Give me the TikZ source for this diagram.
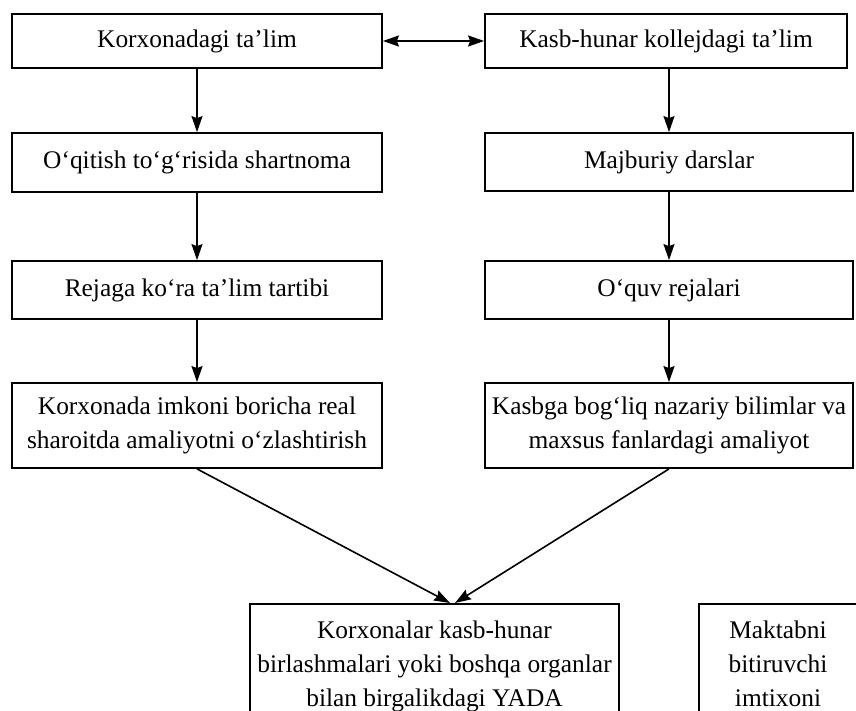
\documentclass[tikz,border=0pt]{standalone}
\usepackage{fontspec}
\setmainfont{Liberation Serif}
\usetikzlibrary{arrows.meta,calc}
\begin{document}
\begin{tikzpicture}[x=1pt,y=-1pt,
  box/.style={draw=black, line width=1.8pt, fill=white, inner xsep=2pt, inner ysep=0pt, align=center,
              font=\fontsize{25.4}{34}\selectfont},
  arr/.style={line width=1.6pt, -{Stealth[length=16pt,width=11pt,inset=2pt]}},
  darr/.style={line width=1.8pt, {Stealth[length=16pt,width=11pt,inset=2pt]}-{Stealth[length=16pt,width=11pt,inset=2pt]}}]
\useasboundingbox (0,0) rectangle (856,711);
\fill[white] (0,0) rectangle (856,711);

% row 1
\node[box, minimum width=370pt, minimum height=54pt] (l1) at (197,41) {Korxonadagi ta’lim};
\node[box, minimum width=362pt, minimum height=54pt] (r1) at (666,41) {Kasb-hunar kollejdagi ta’lim};
% row 2
\node[box, minimum width=370pt, minimum height=59pt] (l2) at (197,162.5) {O‘qitish to‘g‘risida shartnoma};
\node[box, minimum width=368pt, minimum height=58pt] (r2) at (669,162) {Majburiy darslar};
% row 3
\node[box, minimum width=370pt, minimum height=58pt] (l3) at (197,290) {Rejaga ko‘ra ta’lim tartibi};
\node[box, minimum width=368pt, minimum height=58pt] (r3) at (669,290) {O‘quv rejalari};
% row 4
\node[box, minimum width=370pt, minimum height=85pt] (l4) at (197,425.5) {Korxonada imkoni boricha real\\sharoitda amaliyotni o‘zlashtirish};
\node[box, minimum width=368pt, minimum height=85pt] (r4) at (669,425.5) {Kasbga bog‘liq nazariy bilimlar va\\maxsus fanlardagi amaliyot};
% row 5
\node[box, anchor=north, minimum width=369pt, inner ysep=16.5pt] (b1) at (434.5,603)
  {Korxonalar kasb-hunar\\birlashmalari yoki boshqa organlar\\bilan birgalikdagi YADA};
\node[box, anchor=north, minimum width=158pt, inner ysep=16.5pt] (b2) at (778,603)
  {Maktabni\\bitiruvchi\\imtixoni};

% connectors
\draw[darr] (l1.east) -- (r1.west);
\draw[arr] (l1.south) -- (l2.north);
\draw[arr] (l2.south) -- (l3.north);
\draw[arr] (l3.south) -- (l4.north);
\draw[arr] (r2.north |- r1.south) -- (r2.north);
\draw[arr] (r2.south) -- (r3.north);
\draw[arr] (r3.south) -- (r4.north);
\coordinate (tl) at ($(b1.north)+(15.5,0)$);
\coordinate (tr) at ($(b1.north)+(20.5,0)$);
\draw[arr] (l4.south) -- (tl);
\draw[arr] (r4.south) -- (tr);
\end{tikzpicture}
\end{document}
